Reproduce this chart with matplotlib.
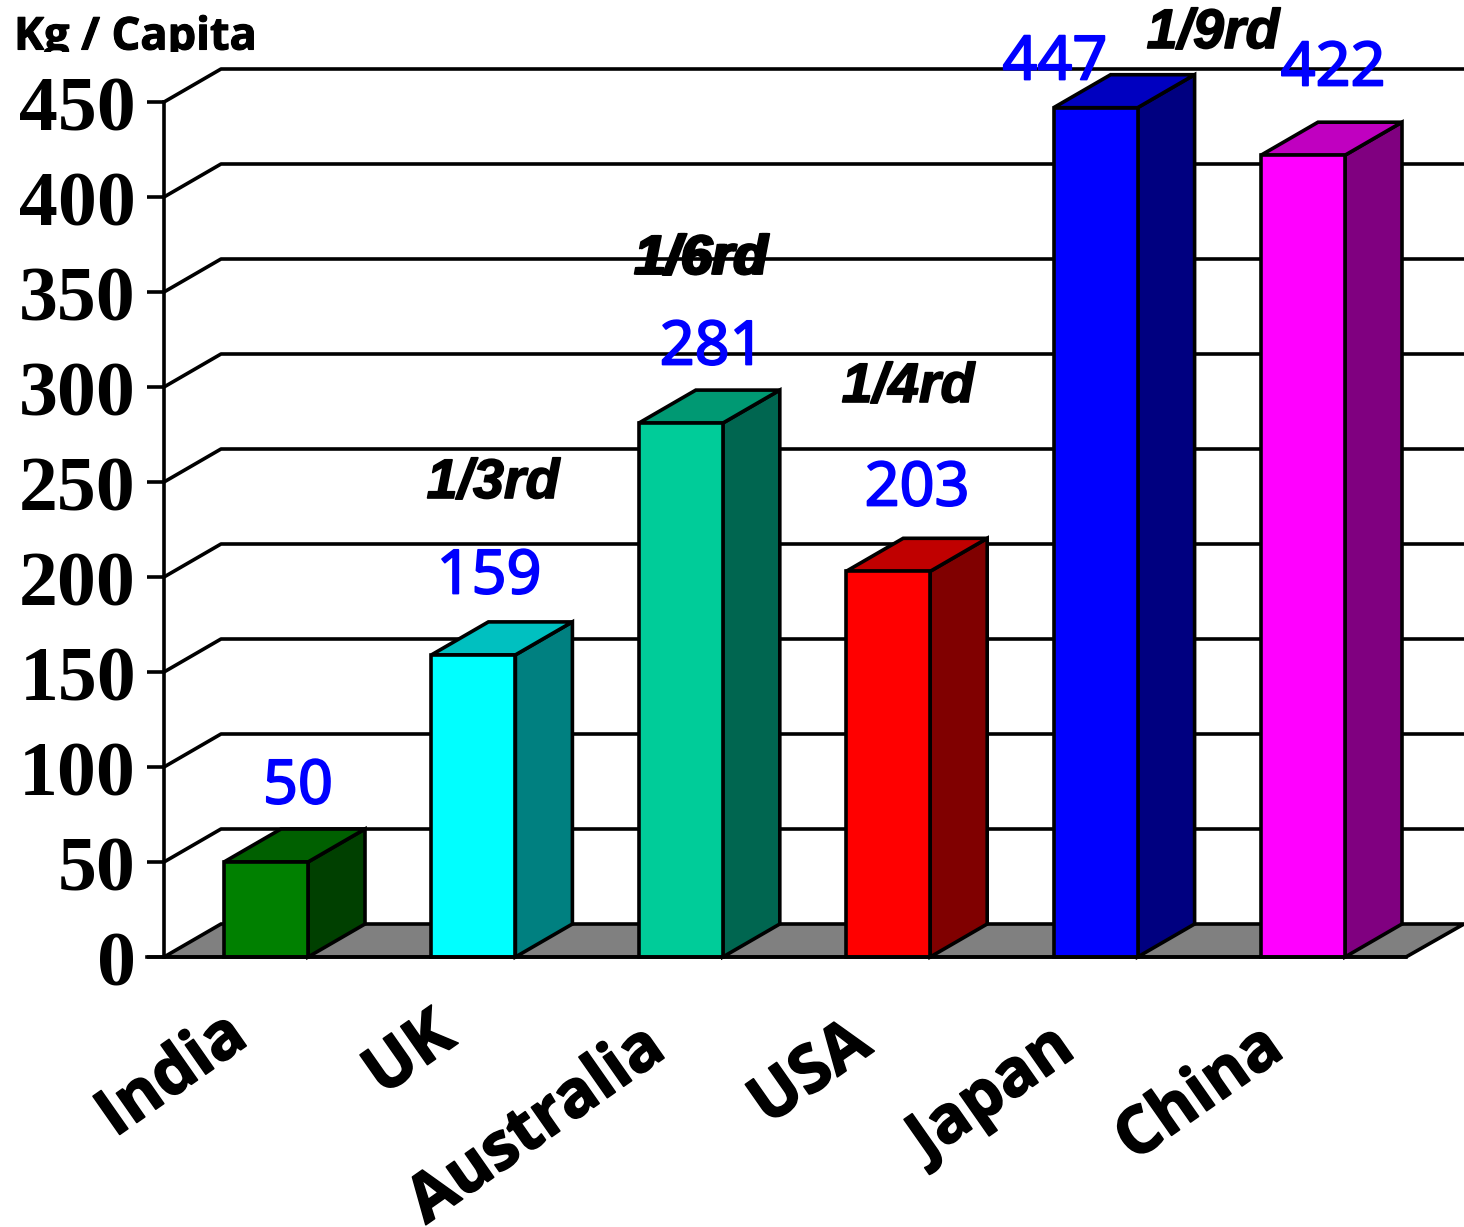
import matplotlib
matplotlib.use("Agg")
import matplotlib.pyplot as plt
import matplotlib.patheffects as pe
from matplotlib.patches import Polygon, Rectangle

countries = ["India", "UK", "Australia", "USA", "Japan", "China"]
values = [50, 159, 281, 203, 447, 422]
ratios = ["", "1/3rd", "1/6rd", "1/4rd", "1/9rd", ""]
yticks = [0, 50, 100, 150, 200, 250, 300, 350, 400, 450]

front = ["#008000", "#00FFFF", "#00CC99", "#FF0000", "#0000FF", "#FF00FF"]
top = ["#006000", "#00C0C0", "#009973", "#C00000", "#0000C0", "#C000C0"]
side = ["#004000", "#008080", "#006650", "#800000", "#000080", "#800080"]

W, H = 1464, 1227
fig = plt.figure(figsize=(W / 100, H / 100), dpi=100)
ax = fig.add_axes([0, 0, 1, 1])

# one category step is 207.4 px, one kg is 1.9 px
sx, sy = 207.4, 1.9
x0_px, y0_px = 266, 957
ax.set_xlim(-x0_px / sx, (W - x0_px) / sx)
ax.set_ylim(-(H - y0_px) / sy, y0_px / sy)
ax.axis("off")


def px_x(px):
    return (px - x0_px) / sx


def px_y(py):
    return (y0_px - py) / sy


def thicken(text, width, color):
    text.set_path_effects([pe.withStroke(linewidth=width, foreground=color)])


bw = 84 / sx
dx, dy = 57 / sx, 33 / sy
wall_x = px_x(164)
floor_end = px_x(1406)
right_edge = px_x(W)
tick_left = px_x(147)
lw = 2.6

# floor
ax.add_patch(Polygon([(wall_x, 0), (wall_x + dx, dy), (right_edge, dy), (floor_end, 0)],
                     fc="#808080", ec="black", lw=lw, joinstyle="miter", zorder=1))

# gridlines and axis
for t in yticks:
    if t > 0:
        ax.plot([wall_x, wall_x + dx, right_edge], [t, t + dy, t + dy], color="black", lw=lw, zorder=1)
    ax.plot([tick_left, wall_x], [t, t], color="black", lw=lw, zorder=1, solid_capstyle="butt")
    ax.text(px_x(136), t - 10 / sy, str(t), ha="right", va="center", fontsize=56,
            family="Liberation Serif", weight="bold")
ax.plot([wall_x, wall_x], [0, 450], color="black", lw=lw, zorder=1)

# bars
for i, v in enumerate(values):
    xl = i - bw / 2
    xr = i + bw / 2
    ax.add_patch(Polygon([(xr, 0), (xr + dx, dy), (xr + dx, v + dy), (xr, v)],
                         fc=side[i], ec="black", lw=lw, zorder=2))
    ax.add_patch(Polygon([(xl, v), (xl + dx, v + dy), (xr + dx, v + dy), (xr, v)],
                         fc=top[i], ec="black", lw=lw, zorder=2))
    ax.add_patch(Rectangle((xl, 0), bw, v, fc=front[i], ec="black", lw=lw, zorder=3))

ax.plot([tick_left, floor_end], [0, 0], color="black", lw=lw, zorder=4)

# value labels
label_px = [(298, 788), (489, 578), (712, 349), (917, 490), (1055, 64), (1333, 70)]
for v, (px, py) in zip(values, label_px):
    t = ax.text(px_x(px), px_y(py), str(v), color="#0000FF", ha="center", va="center",
                fontsize=44, family="Noto Sans", zorder=5)
    thicken(t, 1.3, "#0000FF")

# ratio notes, the 1/6rd one is drawn twice in the original slide
ratio_px = [None, (493, 484), (701, 260), (908, 388), (1213, 34), None]
for r, p in zip(ratios, ratio_px):
    if p is None:
        continue
    offsets = (-1, 1) if r == "1/6rd" else (0,)
    for off in offsets:
        t = ax.text(px_x(p[0] + off), px_y(p[1]), r, ha="center", va="center", fontsize=40,
                    family="Liberation Sans", weight="bold", style="italic", zorder=5)
        thicken(t, 1.2, "black")

# category labels
cat_px = [(222, 1003), (430, 1003), (640, 1015), (846, 1011), (1049, 1015), (1258, 1015)]
for name, (px, py) in zip(countries, cat_px):
    t = ax.text(px_x(px), px_y(py), name, rotation=35, rotation_mode="anchor",
                ha="right", va="top", fontsize=47, family="Open Sans", weight="bold")
    thicken(t, 1.2, "black")

# axis unit, cut off at the bottom
unit = ax.text(px_x(14), px_y(38), "Kg / Capita", ha="left", va="center", fontsize=32.5,
               family="Open Sans", weight="bold")
unit.set_clip_path(Rectangle((0, H - 52), 400, 52, transform=None))
unit.set_clip_on(True)
thicken(unit, 0.8, "black")

fig.savefig("out.png", dpi=100, facecolor="white")
